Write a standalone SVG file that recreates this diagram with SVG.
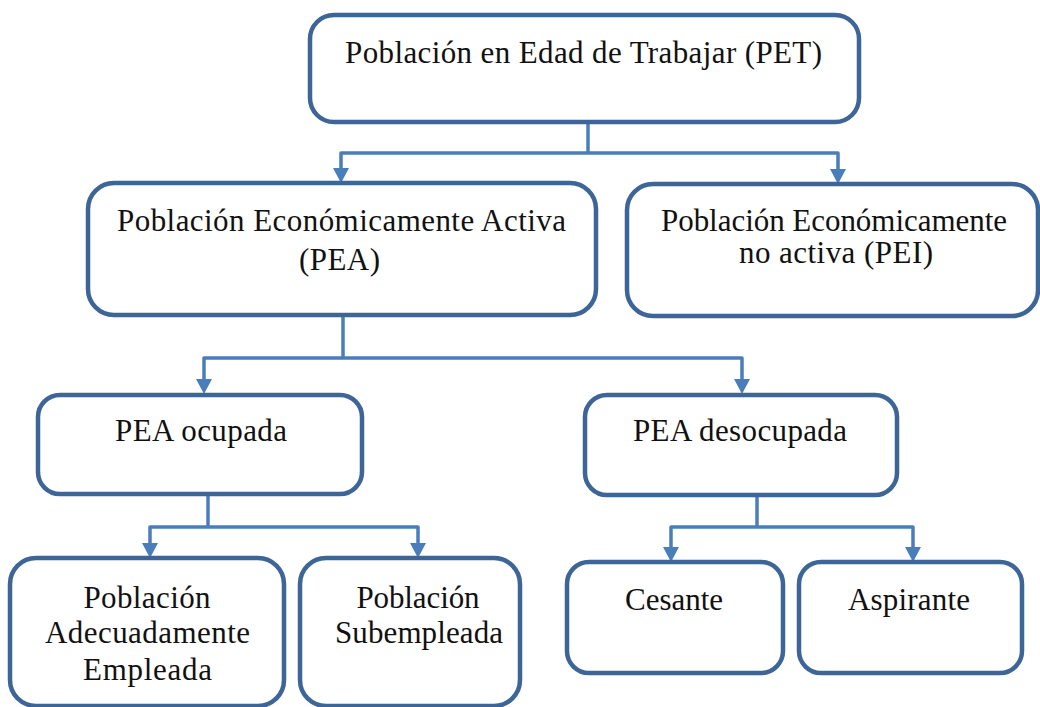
<svg xmlns="http://www.w3.org/2000/svg" width="1040" height="707" viewBox="0 0 1040 707">
<defs>
<style>
.box{fill:#ffffff;stroke:#3d6597;stroke-width:4.5}
.lbl{font-family:"Liberation Serif","Times New Roman",Tinos,"Noto Serif",FreeSerif,"DejaVu Serif",serif;font-size:31px;fill:#111;text-anchor:middle}
.con{fill:none;stroke:#4a7ebb;stroke-width:3.5;stroke-linejoin:round}
</style>
<path id="ah" d="M-8,-15 L8,-15 L0,0 Z" fill="#4a7ebb"/>
</defs>
<rect width="1040" height="707" fill="#ffffff"/>
<g id="connectors">
<path class="con" d="M588,122 V153"/>
<path class="con" d="M341,170 V153 H838 V170"/>
<use href="#ah" x="341" y="183"/>
<use href="#ah" x="838" y="184"/>
<path class="con" d="M343,315 V358"/>
<path class="con" d="M204,380 V358 H742 V380"/>
<use href="#ah" x="204" y="394"/>
<use href="#ah" x="742" y="394"/>
<path class="con" d="M208,494 V527"/>
<path class="con" d="M150,545 V527 H418 V545"/>
<use href="#ah" x="150" y="558"/>
<use href="#ah" x="418" y="558"/>
<path class="con" d="M757,495 V527"/>
<path class="con" d="M671,548 V527 H913 V548"/>
<use href="#ah" x="671" y="562"/>
<use href="#ah" x="913" y="562"/>
</g>
<g id="pet">
<rect class="box" x="310" y="15" width="549" height="107" rx="24"/>
<text class="lbl" x="583.5" y="63" textLength="477" lengthAdjust="spacing">Población en Edad de Trabajar (PET)</text>
</g>
<g id="pea">
<rect class="box" x="88" y="183" width="508" height="132" rx="26"/>
<text class="lbl" x="341.5" y="231" textLength="449" lengthAdjust="spacing">Población Económicamente Activa</text>
<text class="lbl" x="339.5" y="270" textLength="81" lengthAdjust="spacing">(PEA)</text>
</g>
<g id="pei">
<rect class="box" x="627" y="184" width="411" height="132" rx="26"/>
<text class="lbl" x="834" y="231" textLength="346" lengthAdjust="spacing">Población Económicamente</text>
<text class="lbl" x="836" y="263" textLength="194" lengthAdjust="spacing">no activa (PEI)</text>
</g>
<g id="pea-ocupada">
<rect class="box" x="38" y="395" width="324" height="99" rx="22"/>
<text class="lbl" x="201" y="441" textLength="172" lengthAdjust="spacing">PEA ocupada</text>
</g>
<g id="pea-desocupada">
<rect class="box" x="585" y="395" width="312" height="100" rx="22"/>
<text class="lbl" x="740" y="441" textLength="214" lengthAdjust="spacing">PEA desocupada</text>
</g>
<g id="adecuadamente">
<rect class="box" x="10" y="558" width="274" height="148" rx="26"/>
<text class="lbl" x="147" y="608" textLength="127" lengthAdjust="spacing">Población</text>
<text class="lbl" x="147.5" y="643" textLength="205" lengthAdjust="spacing">Adecuadamente</text>
<text class="lbl" x="147.5" y="680" textLength="129" lengthAdjust="spacing">Empleada</text>
</g>
<g id="subempleada">
<rect class="box" x="300" y="558" width="220" height="148" rx="26"/>
<text class="lbl" x="418" y="608" textLength="123" lengthAdjust="spacing">Población</text>
<text class="lbl" x="419" y="643" textLength="168" lengthAdjust="spacing">Subempleada</text>
</g>
<g id="cesante">
<rect class="box" x="567" y="562" width="216" height="111" rx="22"/>
<text class="lbl" x="674" y="610" textLength="98" lengthAdjust="spacing">Cesante</text>
</g>
<g id="aspirante">
<rect class="box" x="799" y="562" width="223" height="111" rx="22"/>
<text class="lbl" x="909" y="610" textLength="122" lengthAdjust="spacing">Aspirante</text>
</g>
</svg>
